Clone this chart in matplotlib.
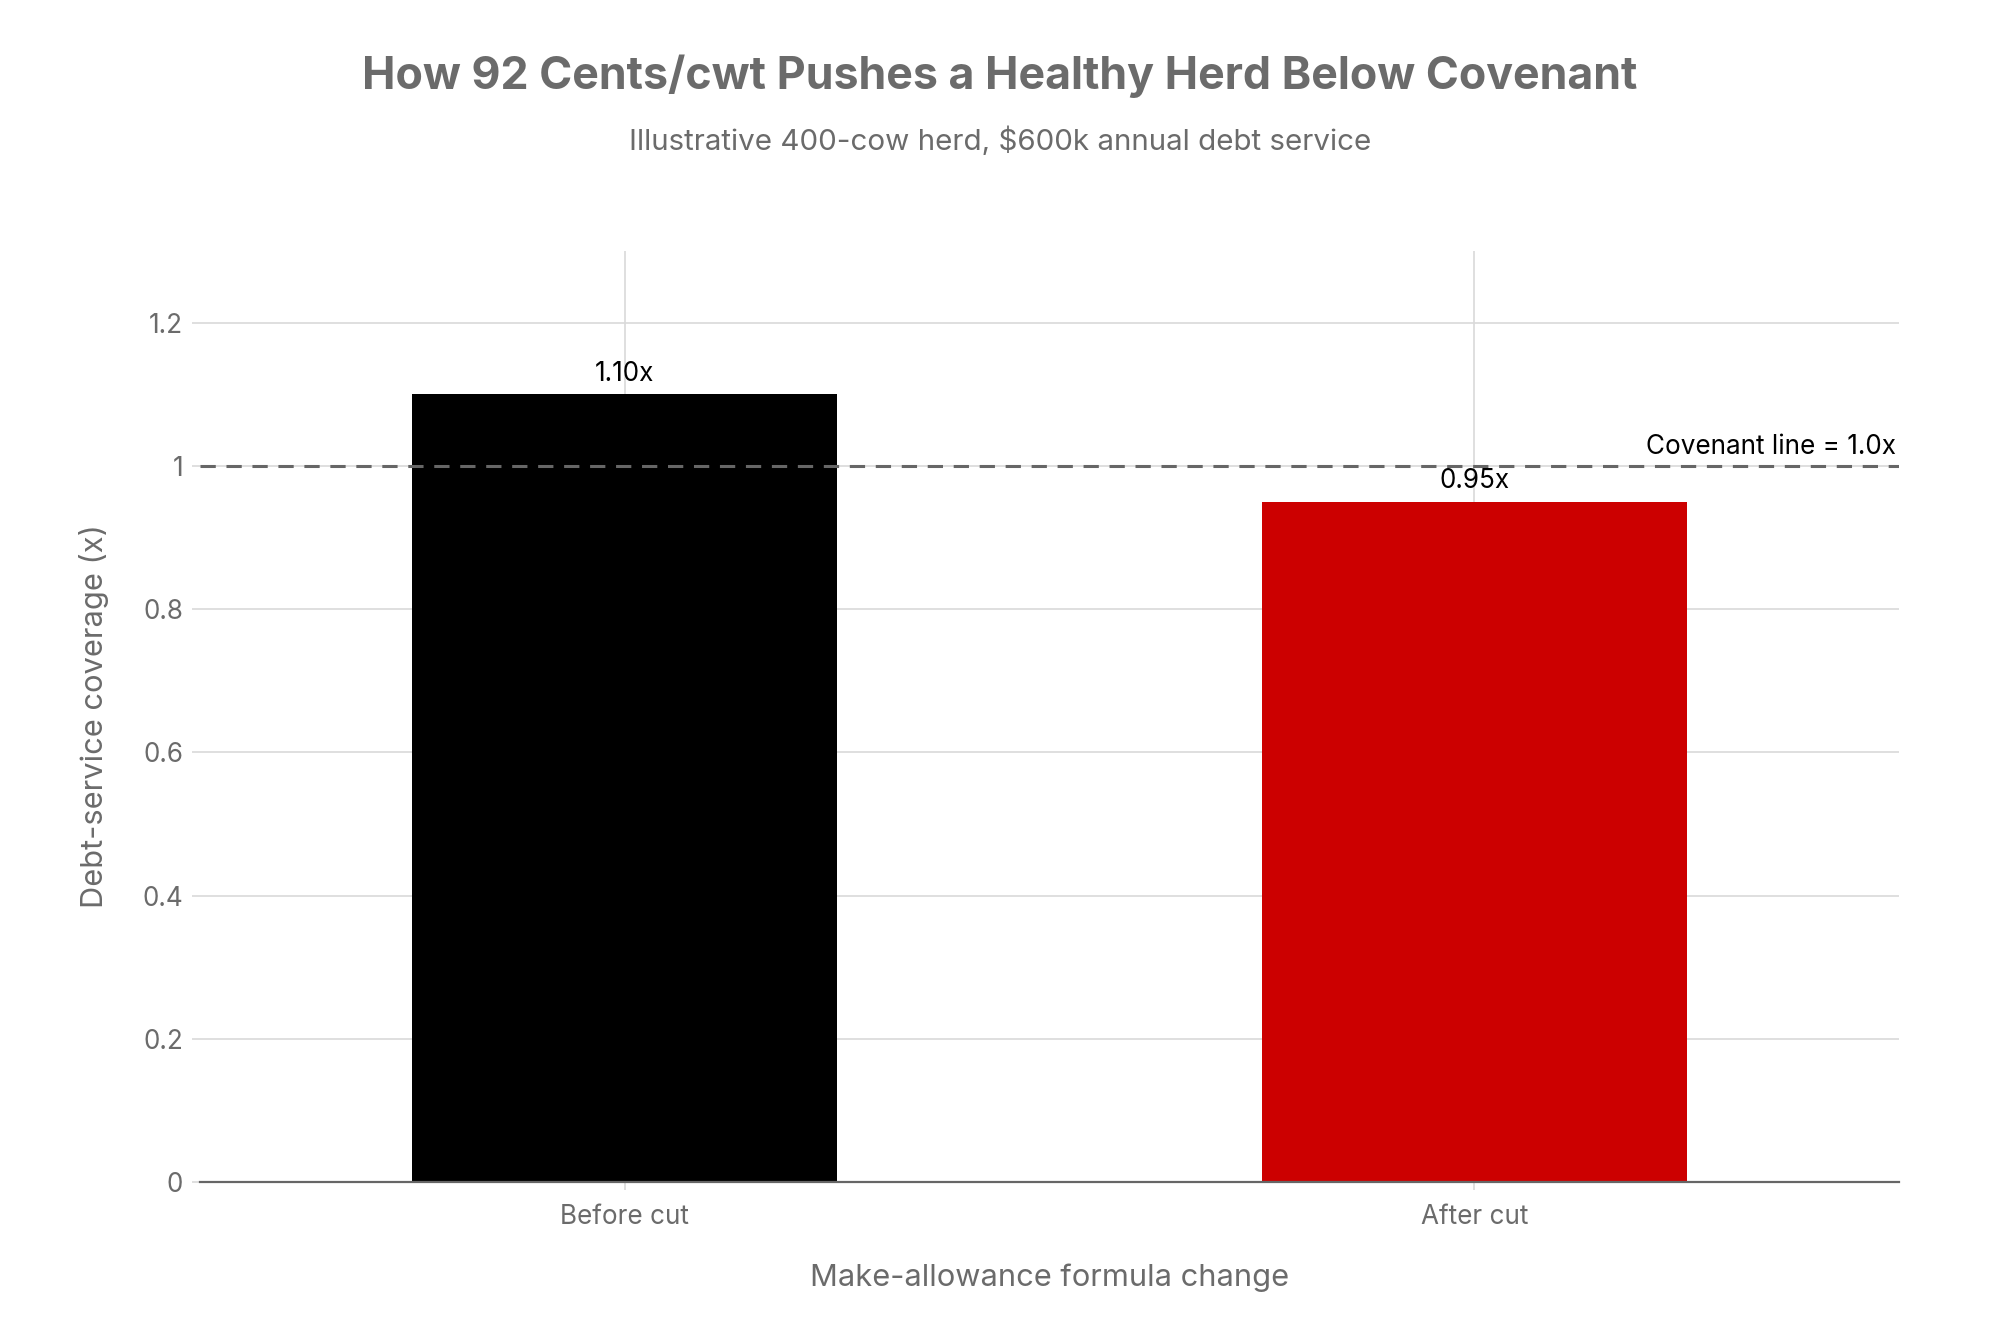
import matplotlib
matplotlib.use("Agg")
import matplotlib.pyplot as plt

categories = ["Before cut", "After cut"]
coverage = [1.10, 0.95]
bar_colors = ["#000000", "#cc0000"]
bar_labels = ["1.10x", "0.95x"]
covenant = 1.0
yticks = [0, 0.2, 0.4, 0.6, 0.8, 1.0, 1.2]
ytick_labels = ["0", "0.2", "0.4", "0.6", "0.8", "1", "1.2"]

plt.rcParams['font.family'] = ['Inter', 'DejaVu Sans']

W, H = 2000, 1333
fig = plt.figure(figsize=(10, 6.665), dpi=200)
ax = fig.add_axes([200 / W, 1 - 1182 / H, 1699 / W, (1182 - 251) / H])

x = list(range(len(categories)))
ax.bar(x, coverage, width=0.5, color=bar_colors, zorder=3)
ax.set_xlim(-0.5, 1.5)
ax.set_ylim(0, 1.3)

ax.set_yticks(yticks)
ax.set_yticklabels(ytick_labels)
ax.set_xticks(x)
ax.set_xticklabels(categories)

ax.grid(True, color="#d9d9d9", linewidth=0.6, zorder=0)
ax.set_axisbelow(True)
for s in ["top", "right", "left"]:
    ax.spines[s].set_visible(False)
ax.spines["bottom"].set_color("#666666")
ax.spines["bottom"].set_linewidth(0.8)
ax.spines["bottom"].set_zorder(4)
ax.tick_params(axis="both", colors="#d9d9d9", labelcolor="#6b6b6b", labelsize=9.4, length=3, width=0.6)
ax.tick_params(axis="x", pad=5)
ax.tick_params(axis="y", pad=3)

ax.axhline(covenant, color="#666666", linestyle=(0, (5, 3.5)), linewidth=1.1, zorder=5)
ax.text(1.497, covenant + 0.008, "Covenant line = 1.0x", ha="right", va="bottom", fontsize=9.4, color="#000000", zorder=6)

for xi, v, lab in zip(x, coverage, bar_labels):
    ax.text(xi, v + 0.01, lab, ha="center", va="bottom", fontsize=9.4, color="#000000", zorder=6)

ax.set_xlabel("Make-allowance formula change", fontsize=11.1, color="#6b6b6b", labelpad=12)
ax.set_ylabel("Debt-service coverage (x)", fontsize=11.1, color="#6b6b6b", labelpad=12)

fig.text(0.5, 1 - 76 / H, "How 92 Cents/cwt Pushes a Healthy Herd Below Covenant", ha="center", va="center",
         fontsize=16.1, fontweight="bold", color="#6b6b6b")
fig.text(0.5, 1 - 141 / H, "Illustrative 400-cow herd, $600k annual debt service", ha="center", va="center",
         fontsize=10.65, color="#6b6b6b")

fig.savefig("out.png", dpi=200)
